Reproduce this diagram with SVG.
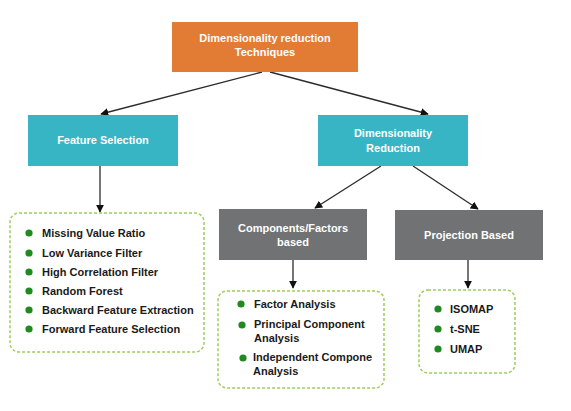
<svg xmlns="http://www.w3.org/2000/svg" width="571" height="411" viewBox="0 0 571 411">
<style>
.t{font-family:"Liberation Sans",Arial,sans-serif;font-weight:bold;font-size:11px;}
.w{fill:#ffffff;text-anchor:middle;}
.b{fill:#1a1a1a;}
.list{fill:#ffffff;stroke:#9ccf5c;stroke-width:1.5;stroke-dasharray:3 2;}
.dot{fill:#1f8a1f;}
.c{stroke:#2b2b2b;stroke-width:1.3;fill:none;marker-end:url(#ah);}
</style>
<defs>
<marker id="ah" viewBox="0 0 10 10" refX="9" refY="5" markerWidth="8" markerHeight="8" markerUnits="userSpaceOnUse" orient="auto">
<path d="M0,0 L10,5 L0,10 z" fill="#111"/>
</marker>
</defs>
<rect width="571" height="411" fill="#ffffff"/>
<g id="connectors">
<line class="c" x1="262" y1="72" x2="101" y2="114"/>
<line class="c" x1="270" y1="72" x2="428" y2="114"/>
<line class="c" x1="100" y1="166" x2="100" y2="212"/>
<line class="c" x1="381" y1="166" x2="315" y2="208"/>
<line class="c" x1="413" y1="166" x2="478" y2="209"/>
<line class="c" x1="293" y1="260" x2="293" y2="288"/>
<line class="c" x1="468" y1="260" x2="468" y2="288"/>
</g>
<g id="root">
<rect x="172" y="22" width="186" height="50" fill="#e27b33"/>
<text class="t w" x="265" y="42">Dimensionality reduction</text>
<text class="t w" x="265" y="56">Techniques</text>
</g>
<g id="feature-selection">
<rect x="28" y="115" width="150" height="51" fill="#38b5c4"/>
<text class="t w" x="103" y="144">Feature Selection</text>
</g>
<g id="dimensionality-reduction">
<rect x="318" y="115" width="150" height="51" fill="#38b5c4"/>
<text class="t w" x="393" y="137">Dimensionality</text>
<text class="t w" x="393" y="152">Reduction</text>
</g>
<g id="components-factors">
<rect x="219" y="209" width="148" height="51" fill="#707274"/>
<text class="t w" x="293" y="232">Components/Factors</text>
<text class="t w" x="293" y="246">based</text>
</g>
<g id="projection-based">
<rect x="395" y="210" width="148" height="50" fill="#707274"/>
<text class="t w" x="469" y="239">Projection Based</text>
</g>
<g id="feature-list">
<rect class="list" x="10" y="213" width="194" height="139" rx="9"/>
<circle class="dot" cx="29" cy="233" r="3.6"/>
<text class="t b" x="42" y="237">Missing Value Ratio</text>
<circle class="dot" cx="29" cy="253" r="3.6"/>
<text class="t b" x="42" y="257">Low Variance Filter</text>
<circle class="dot" cx="29" cy="272" r="3.6"/>
<text class="t b" x="42" y="276">High Correlation Filter</text>
<circle class="dot" cx="29" cy="291" r="3.6"/>
<text class="t b" x="42" y="295">Random Forest</text>
<circle class="dot" cx="29" cy="310" r="3.6"/>
<text class="t b" x="42" y="314">Backward Feature Extraction</text>
<circle class="dot" cx="29" cy="329" r="3.6"/>
<text class="t b" x="42" y="333">Forward Feature Selection</text>
</g>
<g id="components-list">
<rect class="list" x="218" y="291" width="166" height="97" rx="9"/>
<circle class="dot" cx="241" cy="304" r="3.6"/>
<text class="t b" x="254" y="308">Factor Analysis</text>
<circle class="dot" cx="242" cy="325" r="3.6"/>
<text class="t b" x="254" y="328">Principal Component</text>
<text class="t b" x="254" y="342">Analysis</text>
<circle class="dot" cx="243" cy="358" r="3.6"/>
<text class="t b" x="253" y="361">Independent Compone</text>
<text class="t b" x="253" y="375">Analysis</text>
</g>
<g id="projection-list">
<rect class="list" x="419" y="290" width="96" height="83" rx="9"/>
<circle class="dot" cx="438" cy="309" r="3.6"/>
<text class="t b" x="450" y="313">ISOMAP</text>
<circle class="dot" cx="438" cy="329" r="3.6"/>
<text class="t b" x="450" y="333">t-SNE</text>
<circle class="dot" cx="438" cy="349" r="3.6"/>
<text class="t b" x="450" y="353">UMAP</text>
</g>
</svg>
